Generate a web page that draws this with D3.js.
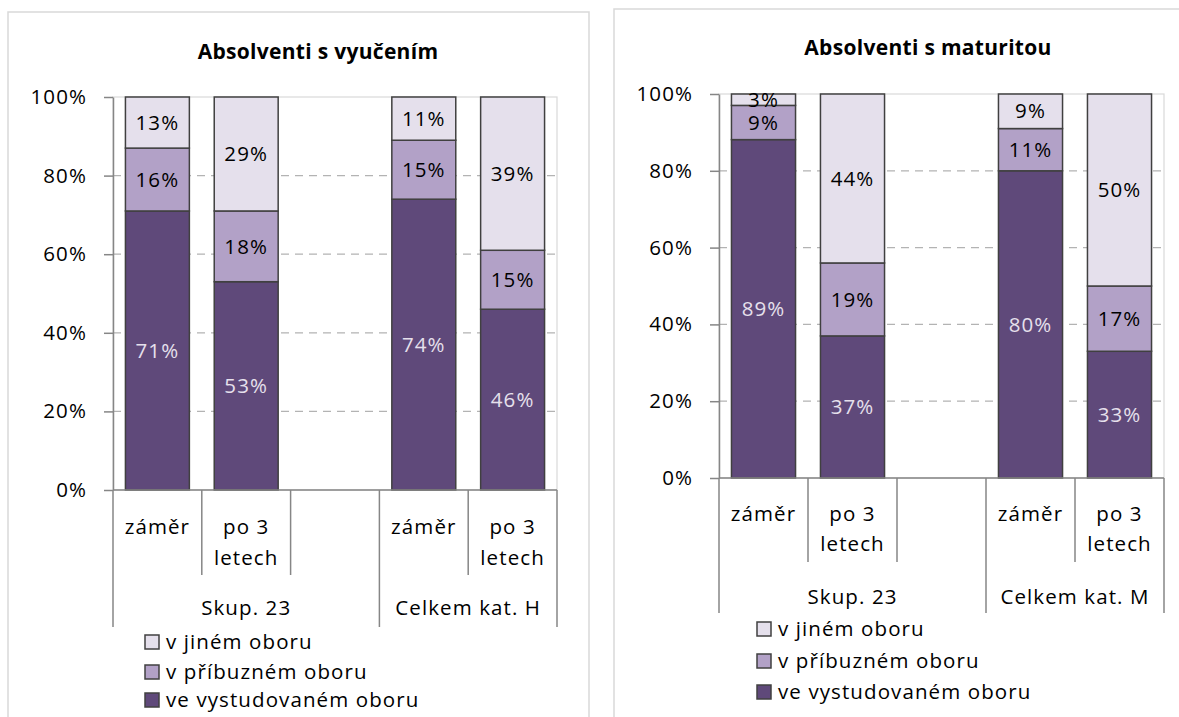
<!DOCTYPE html>
<html>
<head>
<meta charset="utf-8">
<script src="https://cdn.jsdelivr.net/npm/d3@7"></script>
<style>
  body { margin: 0; background: #fff; }
  svg text { font-family: "Open Sans", sans-serif; fill: #000; }
</style>
</head>
<body>
<script>
var width = 1179, height = 717, fs = "20.5px", ls = "1.1px"

// series (bottom to top) and colours
var seriesNames = ["ve vystudovaném oboru", "v příbuzném oboru", "v jiném oboru"]
var seriesColors = ["#5f497a", "#b2a1c7", "#e5e0ec"]

// category slots (third slot is an empty spacer)
var slotLabels = [["záměr"], ["po 3", "letech"], [], ["záměr"], ["po 3", "letech"]]
var yTicks = [0, 0.2, 0.4, 0.6, 0.8, 1]

// Absolventi s vyučením
var vyuc_vystud = [71, 53, null, 74, 46]
var vyuc_pribuz = [16, 18, null, 15, 15]
var vyuc_jine   = [13, 29, null, 11, 39]
var vyuc_groups = [{name: "Skup. 23", from: 0, to: 3}, {name: "Celkem kat. H", from: 3, to: 5}]

// Absolventi s maturitou
var mat_vystud = [89, 37, null, 80, 33]
var mat_pribuz = [9, 19, null, 11, 17]
var mat_jine   = [3, 44, null, 9, 50]
var mat_groups = [{name: "Skup. 23", from: 0, to: 3}, {name: "Celkem kat. M", from: 3, to: 5}]

var svg = d3.select("body")
    .append("svg")
    .attr("width", width)
    .attr("height", height);

function drawChart(cfg) {
  var rows = [];
  cfg.values[0].forEach(function(v, i) {
    if (v == null) return;
    rows.push({slot: i, s0: cfg.values[0][i], s1: cfg.values[1][i], s2: cfg.values[2][i]});
  });
  // 100% stacked, like Excel (89+9+3 gets normalised)
  var stacked = d3.stack().keys(["s0", "s1", "s2"]).offset(d3.stackOffsetExpand)(rows);

  var x = d3.scaleBand().domain(d3.range(slotLabels.length))
      .range([cfg.x0, cfg.x1]).paddingInner(0.28).paddingOuter(0.14);
  var y = d3.scaleLinear().domain([0, 1]).range([cfg.y0, cfg.y1]);
  var step = x.step();
  var slotLeft = function(i) { return cfg.x0 + i * step; };

  // panel frame
  svg.append("rect")
      .attr("x", cfg.px).attr("y", cfg.py)
      .attr("width", cfg.pw).attr("height", height)
      .attr("fill", "#fff").attr("stroke", "#d9d9d9").attr("stroke-width", 1.5);

  svg.append("text")
      .attr("x", cfg.tx).attr("y", cfg.ty)
      .attr("text-anchor", "middle").attr("dy", "0.35em")
      .style("font-size", "21px").style("font-weight", "bold")
      .style("letter-spacing", "0.3px")
      .text(cfg.title);

  // plot area border + dashed grid
  svg.append("rect")
      .attr("x", cfg.x0).attr("y", cfg.y1)
      .attr("width", cfg.x1 - cfg.x0).attr("height", cfg.y0 - cfg.y1)
      .attr("fill", "none").attr("stroke", "#d9d9d9").attr("stroke-width", 1.2);
  svg.append("g").selectAll("line")
      .data(yTicks.filter(function(t) { return t > 0 && t < 1; }))
    .enter().append("line")
      .attr("x1", cfg.x0).attr("x2", cfg.x1)
      .attr("y1", function(d) { return y(d); }).attr("y2", function(d) { return y(d); })
      .attr("stroke", "#b3b3b3").attr("stroke-width", 1.2)
      .attr("stroke-dasharray", "8,6");

  // bars
  var layer = svg.append("g").selectAll("g")
      .data(stacked)
    .enter().append("g");
  layer.selectAll("rect")
      .data(function(d) { return d.map(function(p) { p.key = d.key; p.index = d.index; return p; }); })
    .enter().append("rect")
      .attr("x", function(d) { return x(d.data.slot); })
      .attr("width", x.bandwidth())
      .attr("y", function(d) { return y(d[1]); })
      .attr("height", function(d) { return y(d[0]) - y(d[1]); })
      .attr("fill", function(d) { return seriesColors[d.index]; })
      .attr("stroke", "#404040").attr("stroke-width", 1.5);
  layer.selectAll("text")
      .data(function(d) { return d.map(function(p) { p.key = d.key; p.index = d.index; return p; }); })
    .enter().append("text")
      .attr("x", function(d) { return x(d.data.slot) + x.bandwidth() / 2; })
      .attr("y", function(d) { return (y(d[0]) + y(d[1])) / 2; })
      .attr("dy", "0.35em").attr("text-anchor", "middle")
      .style("font-size", fs).style("letter-spacing", ls)
      .style("fill", function(d) { return d.index == 0 ? "#e6e0ec" : "#000"; })
      .text(function(d) { return d.data[d.key] + "%"; });

  // y axis
  var yAxis = svg.append("g")
      .attr("transform", "translate(" + cfg.x0 + ",0)")
      .call(d3.axisLeft(y).tickValues(yTicks).tickFormat(d3.format(".0%"))
        .tickSize(9).tickSizeOuter(0).tickPadding(17));
  yAxis.selectAll("line, path").attr("stroke", "#868686").attr("stroke-width", 1.5);
  yAxis.selectAll("text").style("font-size", fs).style("letter-spacing", ls)
      .style("font-family", "'Open Sans', sans-serif").attr("fill", "#000");

  // category axis (two levels)
  svg.append("line")
      .attr("x1", cfg.x0).attr("x2", cfg.x1).attr("y1", cfg.y0).attr("y2", cfg.y0)
      .attr("stroke", "#868686").attr("stroke-width", 1.5);
  var bounds = d3.range(slotLabels.length + 1);
  var outer = [0];
  cfg.groups.forEach(function(g) { outer.push(g.to); });
  svg.append("g").selectAll("line")
      .data(bounds)
    .enter().append("line")
      .attr("x1", function(i) { return slotLeft(i); }).attr("x2", function(i) { return slotLeft(i); })
      .attr("y1", cfg.y0)
      .attr("y2", function(i) { return outer.indexOf(i) >= 0 ? cfg.outerBottom : cfg.innerBottom; })
      .attr("stroke", "#868686").attr("stroke-width", 1.5);

  var cat = svg.append("g").selectAll("text")
      .data(slotLabels)
    .enter().append("text")
      .attr("x", function(d, i) { return slotLeft(i) + step / 2; })
      .attr("y", cfg.lab1)
      .attr("text-anchor", "middle")
      .style("font-size", fs).style("letter-spacing", ls);
  cat.selectAll("tspan")
      .data(function(d) { return d; })
    .enter().append("tspan")
      .attr("x", function() { return this.parentNode.getAttribute("x"); })
      .attr("dy", function(d, i) { return i == 0 ? "0.35em" : cfg.lineH + "px"; })
      .text(function(d) { return d; });

  svg.append("g").selectAll("text")
      .data(cfg.groups)
    .enter().append("text")
      .attr("x", function(d) { return (slotLeft(d.from) + slotLeft(d.to)) / 2; })
      .attr("y", cfg.lab2).attr("dy", "0.35em")
      .attr("text-anchor", "middle")
      .style("font-size", fs).style("letter-spacing", ls)
      .text(function(d) { return d.name; });

  // legend (top to bottom: jiné, příbuzné, vystudované)
  var legend = svg.append("g").selectAll("g")
      .data([2, 1, 0])
    .enter().append("g")
      .attr("transform", function(d, i) { return "translate(" + cfg.lx + "," + cfg.ly[i] + ")"; });
  legend.append("rect")
      .attr("x", 0).attr("y", -7).attr("width", 14).attr("height", 14)
      .attr("fill", function(d) { return seriesColors[d]; })
      .attr("stroke", "#404040").attr("stroke-width", 1.5);
  legend.append("text")
      .attr("x", 21).attr("dy", "0.35em")
      .style("font-size", fs).style("letter-spacing", ls)
      .text(function(d) { return seriesNames[d]; });
}

drawChart({
  title: "Absolventi s vyučením",
  values: [vyuc_vystud, vyuc_pribuz, vyuc_jine],
  groups: vyuc_groups,
  px: 8, py: 12, pw: 581,
  tx: 318, ty: 52,
  x0: 113, x1: 557, y0: 490, y1: 97,
  innerBottom: 575, outerBottom: 627,
  lab1: 527, lineH: 31, lab2: 608,
  lx: 145, ly: [642, 672, 700]
});

drawChart({
  title: "Absolventi s maturitou",
  values: [mat_vystud, mat_pribuz, mat_jine],
  groups: mat_groups,
  px: 614, py: 9, pw: 600,
  tx: 928, ty: 48,
  x0: 719, x1: 1164, y0: 478, y1: 94,
  innerBottom: 562, outerBottom: 613,
  lab1: 514, lineH: 30, lab2: 597,
  lx: 757, ly: [629, 661, 692]
});
</script>
</body>
</html>
